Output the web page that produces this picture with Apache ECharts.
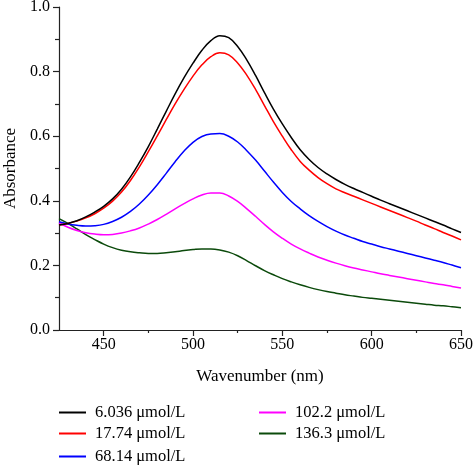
<!DOCTYPE html>
<html><head><meta charset="utf-8">
<script src="https://cdn.jsdelivr.net/npm/echarts@6/dist/echarts.min.js"></script>
<style>html,body{margin:0;padding:0;background:#fff}#c{width:473px;height:465px}</style>
</head><body><div id="c"></div>
<script>
var wavelengths = [425,430,435,440,445,450,455,460,465,470,475,480,485,490,495,500,505,510,515,520,525,530,535,540,545,550,555,560,565,570,575,580,585,590,595,600,605,610,615,620,625,630,635,640,645,650];
var seriesNames = ['6.036 μmol/L','17.74 μmol/L','68.14 μmol/L','102.2 μmol/L','136.3 μmol/L'];
var s6036 = [0.325,0.330,0.338,0.350,0.365,0.383,0.406,0.436,0.474,0.519,0.568,0.622,0.677,0.731,0.781,0.826,0.866,0.896,0.911,0.905,0.878,0.837,0.788,0.735,0.684,0.638,0.596,0.558,0.528,0.503,0.483,0.466,0.451,0.438,0.426,0.414,0.402,0.391,0.380,0.369,0.358,0.347,0.336,0.325,0.313,0.302];
var s1774 = [0.325,0.330,0.337,0.347,0.360,0.377,0.399,0.427,0.463,0.505,0.552,0.601,0.651,0.700,0.745,0.786,0.821,0.846,0.858,0.852,0.827,0.790,0.745,0.695,0.645,0.600,0.558,0.522,0.495,0.472,0.453,0.437,0.425,0.414,0.403,0.392,0.381,0.370,0.359,0.348,0.337,0.325,0.314,0.302,0.291,0.279];
var s6814 = [0.335,0.328,0.324,0.322,0.323,0.327,0.336,0.349,0.367,0.390,0.418,0.450,0.485,0.521,0.554,0.581,0.599,0.607,0.608,0.600,0.582,0.556,0.526,0.492,0.458,0.426,0.398,0.375,0.354,0.336,0.320,0.306,0.294,0.284,0.274,0.266,0.258,0.251,0.244,0.237,0.230,0.223,0.216,0.209,0.201,0.193];
var s1022 = [0.332,0.318,0.308,0.301,0.297,0.295,0.296,0.300,0.307,0.316,0.328,0.342,0.358,0.375,0.391,0.406,0.418,0.424,0.424,0.415,0.398,0.376,0.352,0.327,0.304,0.284,0.266,0.251,0.238,0.226,0.216,0.207,0.199,0.192,0.186,0.180,0.174,0.169,0.164,0.159,0.154,0.149,0.144,0.140,0.135,0.130];
var s1363 = [0.345,0.330,0.313,0.295,0.280,0.266,0.255,0.247,0.242,0.239,0.237,0.237,0.239,0.242,0.246,0.249,0.251,0.251,0.248,0.241,0.230,0.215,0.199,0.184,0.171,0.159,0.149,0.140,0.132,0.125,0.119,0.114,0.109,0.105,0.101,0.098,0.095,0.092,0.089,0.086,0.083,0.080,0.077,0.075,0.072,0.069];
var xMajorTicks = [450,500,550,600,650];
var xMinorTicks = [475,525,575,625];
var yTickLabels = ['0.0','0.2','0.4','0.6','0.8','1.0'];

var colors = ['#000000','#ff0000','#0000ff','#ff00ff','#0b4a0b'];
var allData = [s6036,s1774,s6814,s1022,s1363];
var font = 'Liberation Serif';

function pairs(arr){ return wavelengths.map(function(w,i){return [w,arr[i]];}); }

var series = allData.map(function(d,i){
  return {name: seriesNames[i], type:'line', data: pairs(d), symbol:'none', smooth:0.4,
    lineStyle:{color:colors[i], width:1.5}, itemStyle:{color:colors[i]}, xAxisIndex:0, yAxisIndex:0, z: 10-i};
});

var legendPos = [[54,399],[54,420],[54,443],[254,399],[254,420]];
var legends = seriesNames.map(function(n,i){
  return {data:[n], left:legendPos[i][0], top:legendPos[i][1], icon:'rect',
    itemWidth:27, itemHeight:2, padding:5,
    textStyle:{fontFamily:font, fontSize:16.5, color:'#000', padding:[0,0,0,4]}};
});

var chart = echarts.init(document.getElementById('c'));
chart.setOption({
  animation:false,
  backgroundColor:'#fff',
  grid:{left:59, right:12, top:7, bottom:135, containLabel:false, outerBoundsMode:'none'},
  xAxis:[{
    type:'value', min:425, max:650,
    name:'Wavenumber (nm)', nameLocation:'middle', nameGap:38,
    nameTextStyle:{fontFamily:font, fontSize:17, color:'#000'},
    axisLine:{show:true, onZero:false, lineStyle:{color:'#222', width:1.2}},
    axisTick:{show:true, inside:false, length:6, customValues:xMajorTicks, lineStyle:{color:'#222', width:1.2}},
    axisLabel:{customValues:xMajorTicks, fontFamily:font, fontSize:16, color:'#000', margin:7},
    splitLine:{show:false}
  },{
    type:'value', min:425, max:650, position:'bottom',
    axisLine:{show:false},
    axisTick:{show:true, inside:false, length:3, customValues:xMinorTicks, lineStyle:{color:'#222', width:1.2}},
    axisLabel:{show:false},
    splitLine:{show:false}
  }],
  yAxis:[{
    type:'value', min:0, max:1, interval:0.2,
    name:'Absorbance', nameLocation:'middle', nameGap:40,
    nameTextStyle:{fontFamily:font, fontSize:17, color:'#000'},
    axisLine:{show:true, onZero:false, lineStyle:{color:'#222', width:1.2}},
    axisTick:{show:true, inside:false, length:6, lineStyle:{color:'#222', width:1.2}},
    minorTick:{show:true, splitNumber:2, length:4, lineStyle:{color:'#222', width:1.2}},
    axisLabel:{fontFamily:font, fontSize:16, color:'#000', margin:9,
      formatter:function(v){ var i=Math.round(v/0.2); return yTickLabels[i]; }},
    splitLine:{show:false}
  }],
  legend:legends,
  series:series
});
</script></body></html>
